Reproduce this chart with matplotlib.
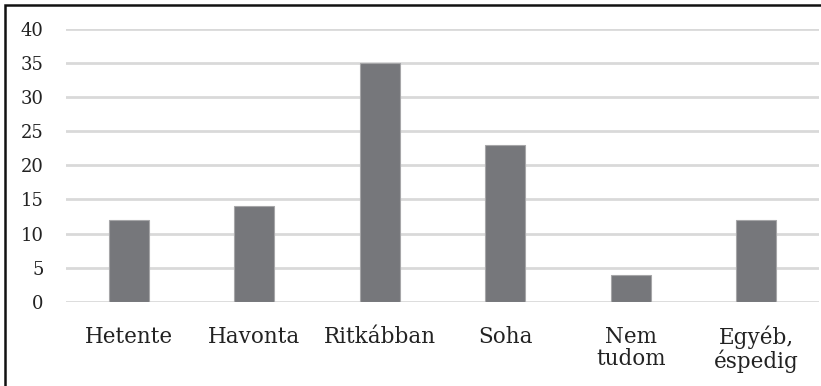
"""Bar chart of response frequencies (Hungarian survey categories)."""

import matplotlib

matplotlib.use("Agg")
import matplotlib.pyplot as plt
from matplotlib.patches import Rectangle

categories = ["Hetente", "Havonta", "Ritkábban", "Soha", "Nem\ntudom", "Egyéb,\néspedig"]
values = [12, 14, 35, 23, 4, 12]
y_ticks = [0, 5, 10, 15, 20, 25, 30, 35, 40]

plt.rcParams["font.family"] = ["DejaVu Serif"]

fig = plt.figure(figsize=(8.21, 3.86), dpi=100)
ax = fig.add_axes([66 / 821, 1 - 302 / 386, 753 / 821, 273.5 / 386])

x = list(range(len(categories)))
ax.bar(x, values, width=0.32, color="#76777b", edgecolor="#a6a6a8", linewidth=0.8, zorder=3)

ax.set_xlim(-0.5, len(categories) - 0.5)
ax.set_ylim(0, 40)
ax.set_yticks(y_ticks)
ax.set_yticklabels([str(t) for t in y_ticks])
ax.set_xticks(x)
ax.set_xticklabels(categories, linespacing=1.0)
ax.grid(axis="y", color="#d9d9d9", linewidth=2, zorder=0)
ax.tick_params(axis="both", length=0, colors="#222222")
ax.tick_params(axis="y", pad=16, labelsize=13)
ax.tick_params(axis="x", pad=17, labelsize=15.5)
for spine in ax.spines.values():
    spine.set_visible(False)

# outer frame (only the top and left edges fall inside the canvas)
fig.patches.append(
    Rectangle((4.5 / 821, -0.1), 1.2, 1.1 - 4.5 / 386, transform=fig.transFigure,
              fill=False, edgecolor="#111111", linewidth=1.8)
)

fig.savefig("out.png", dpi=100)
